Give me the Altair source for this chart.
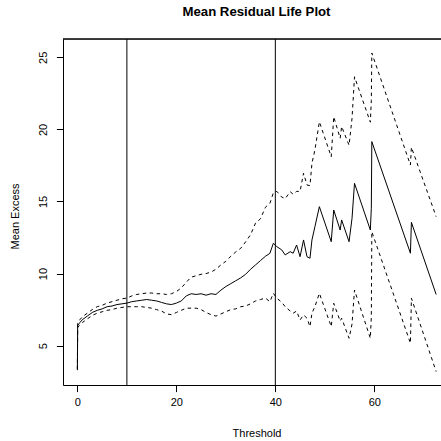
import altair as alt
import pandas as pd

# ---- data ----
threshold = [0, 0.05, 0.5, 1, 2, 3, 4, 5, 6, 7, 8, 9, 10, 11, 12, 13, 14, 15, 16, 17, 18, 19,
             20, 21, 22, 23, 24, 25, 26, 27, 28, 29, 30, 31, 32, 33, 34, 35, 36, 37, 38,
             38.9, 39.6, 40.3, 41.3, 42, 43, 43.6, 44.3, 45, 45.7, 46.4, 47, 47.4, 48, 48.9,
             51.3, 51.8, 53.1, 53.4, 54.9, 55.5, 56, 59.2, 59.4, 59.5, 67.3, 67.5, 72.5]

mean_excess = [3.35, 6.4, 6.6, 6.8, 7.05, 7.3, 7.45, 7.55, 7.7, 7.75, 7.85, 7.9, 7.95, 8.05, 8.1,
               8.15, 8.2, 8.15, 8.1, 8.0, 7.9, 7.85, 7.95, 8.1, 8.45, 8.6, 8.55, 8.6, 8.5, 8.6,
               8.55, 8.85, 9.1, 9.3, 9.5, 9.7, 9.95, 10.3, 10.6, 10.9, 11.2,
               11.4, 12.1, 11.87, 11.64, 11.29, 11.52, 11.41, 11.98, 11.17, 12.33, 11.17, 11.06,
               12.33, 13.25, 14.64, 12.21, 14.41, 13.02, 13.72, 12.21, 13.83, 16.26, 13.02,
               14.53, 19.15, 11.41, 13.55, 8.55]

lower_ci = [3.3, 6.25, 6.45, 6.6, 6.85, 7.1, 7.25, 7.35, 7.45, 7.5, 7.6, 7.65, 7.7, 7.7, 7.7,
            7.7, 7.65, 7.6, 7.5, 7.4, 7.2, 7.15, 7.3, 7.45, 7.6, 7.6, 7.6, 7.5, 7.3, 7.15,
            7.05, 7.2, 7.35, 7.5, 7.55, 7.7, 7.75, 7.9, 8.1, 8.2, 8.3,
            8.05, 8.63, 8.3, 8.0, 7.7, 7.4, 7.25, 7.4, 6.78, 7.13, 6.9, 6.32,
            7.25, 7.71, 8.63, 6.32, 7.94, 6.7, 6.9, 5.51, 6.5, 8.86, 5.51,
            7.0, 12.9, 5.17, 8.29, 3.2]

upper_ci = [3.4, 6.55, 6.8, 7.0, 7.25, 7.5, 7.7, 7.8, 7.95, 8.05, 8.15, 8.25, 8.3, 8.45, 8.55,
            8.6, 8.65, 8.65, 8.6, 8.6, 8.55, 8.6, 8.75, 9.0, 9.4, 9.75, 9.85, 9.95, 10.0, 10.1,
            10.3, 10.6, 10.85, 11.2, 11.5, 11.75, 12.2, 12.7, 13.5, 13.8, 14.6,
            14.87, 15.6, 15.7, 15.3, 15.2, 15.68, 15.5, 15.7, 15.7, 16.96, 16.14, 16.1,
            17.65, 18.57, 20.53, 18.1, 20.88, 19.38, 20.2, 18.9, 20.77, 23.65, 20.5,
            22.0, 25.3, 17.53, 18.76, 13.95]

vline_positions = [10, 40]
x_ticks = [0, 20, 40, 60]
y_ticks = [5, 10, 15, 20, 25]

df = pd.DataFrame({"Threshold": threshold, "Mean": mean_excess,
                   "Lower": lower_ci, "Upper": upper_ci})
ci = df.melt(id_vars="Threshold", value_vars=["Lower", "Upper"],
             var_name="Band", value_name="Value")
vl = pd.DataFrame({"Threshold": vline_positions})

FONT = "Liberation Sans"
W, H = 378, 346

xscale = alt.Scale(domain=[-2.91, 73.48], nice=False, zero=False)
yscale = alt.Scale(domain=[2.27, 26.27], nice=False, zero=False)

xaxis = alt.Axis(title="Threshold", values=x_ticks, format="d", grid=False,
                 tickSize=6.6, tickColor="black", domainColor="black", domainWidth=1,
                 labelFont=FONT, labelFontSize=11, labelColor="black", labelPadding=5,
                 titleFont=FONT, titleFontSize=11, titleFontWeight="normal",
                 titleColor="black", titleX=193.5, titleY=48,
                 titleAlign="center", titleBaseline="middle")

yaxis = alt.Axis(title="Mean Excess", values=y_ticks, format="d", grid=False,
                 tickSize=6.6, tickColor="black", domainColor="black", domainWidth=1,
                 labelFont=FONT, labelFontSize=11, labelColor="black",
                 labelAngle=270, labelAlign="center", labelBaseline="middle",
                 labelPadding=13,
                 titleFont=FONT, titleFontSize=11, titleFontWeight="normal",
                 titleColor="black", titleAngle=270, titleX=-48, titleY=177,
                 titleAlign="center", titleBaseline="middle")

base = alt.Chart(df)

mean_line = base.mark_line(color="black", strokeWidth=1, clip=True).encode(
    x=alt.X("Threshold:Q", scale=xscale, axis=xaxis),
    y=alt.Y("Mean:Q", scale=yscale, axis=yaxis),
)

ci_lines = alt.Chart(ci).mark_line(color="black", strokeWidth=1,
                                   strokeDash=[3.5, 3.5], clip=True).encode(
    x=alt.X("Threshold:Q", scale=xscale),
    y=alt.Y("Value:Q", scale=yscale),
    detail="Band:N",
)

vrules = alt.Chart(vl).mark_rule(color="black", strokeWidth=1).encode(
    x=alt.X("Threshold:Q", scale=xscale),
)

top_border = alt.Chart(vl).mark_rule(color="black", strokeWidth=1).encode(
    x=alt.value(0), x2=alt.value(W), y=alt.value(0)
)

chart = alt.layer(mean_line, ci_lines, vrules, top_border).properties(
    width=W, height=H,
    title=alt.TitleParams("Mean Residual Life Plot", font=FONT, fontSize=13.2,
                          fontWeight="bold", color="black", anchor="middle",
                          dx=4.5, offset=19),
    autosize=alt.AutoSizeParams(type="none"),
    padding={"left": 63, "top": 39, "right": 0, "bottom": 56},
).configure_view(stroke=None).configure(background="white")

chart.save("out.html", embed_options={"renderer": "svg", "actions": False})
